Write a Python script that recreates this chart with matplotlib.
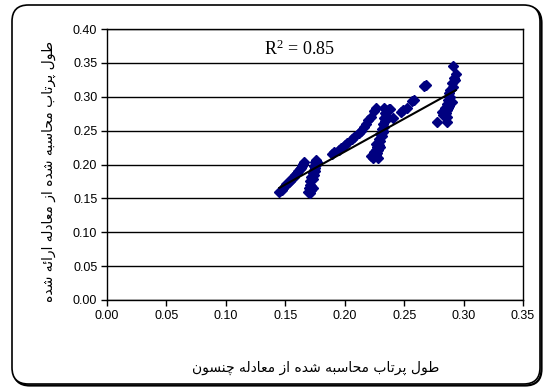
import numpy as np
import matplotlib
matplotlib.use('Agg')
from matplotlib import pyplot as plt
from matplotlib.patches import FancyBboxPatch

# clusters of points (x = Chanson, y = proposed equation)
xa = [0.145, 0.147, 0.148, 0.150, 0.151, 0.153, 0.154, 0.155, 0.157, 0.158, 0.159, 0.160, 0.161, 0.162, 0.163, 0.164, 0.165, 0.166]
ya = [0.160, 0.162, 0.165, 0.168, 0.171, 0.174, 0.176, 0.178, 0.181, 0.184, 0.186, 0.188, 0.191, 0.193, 0.195, 0.198, 0.201, 0.204]

xb = [0.169, 0.171, 0.172, 0.170, 0.171, 0.172, 0.171, 0.173, 0.172, 0.174, 0.173, 0.174, 0.175, 0.174, 0.176, 0.175, 0.177, 0.176, 0.173, 0.175]
yb = [0.160, 0.158, 0.162, 0.166, 0.170, 0.168, 0.175, 0.178, 0.182, 0.185, 0.188, 0.192, 0.195, 0.198, 0.200, 0.203, 0.204, 0.206, 0.165, 0.190]

xc = [0.189, 0.191, 0.195, 0.197, 0.200, 0.202, 0.206, 0.208, 0.212, 0.214, 0.216, 0.218, 0.220, 0.222, 0.2245, 0.2265]
yc = [0.215, 0.218, 0.222, 0.225, 0.229, 0.232, 0.237, 0.240, 0.246, 0.250, 0.255, 0.260, 0.265, 0.270, 0.279, 0.283]

xd = [0.222, 0.224, 0.226, 0.225, 0.227, 0.226, 0.228, 0.227, 0.229, 0.228, 0.230, 0.229, 0.231, 0.230, 0.232, 0.231, 0.233, 0.232, 0.234, 0.233, 0.235, 0.234, 0.236, 0.237, 0.228, 0.230, 0.232, 0.226, 0.233, 0.238]
yd = [0.212, 0.210, 0.214, 0.218, 0.217, 0.222, 0.221, 0.226, 0.229, 0.232, 0.235, 0.238, 0.242, 0.245, 0.248, 0.252, 0.256, 0.260, 0.264, 0.268, 0.272, 0.276, 0.280, 0.282, 0.209, 0.226, 0.250, 0.230, 0.284, 0.282]

xe = [0.241, 0.247, 0.249, 0.252, 0.257, 0.258, 0.267, 0.268]
ye = [0.268, 0.277, 0.280, 0.283, 0.293, 0.295, 0.316, 0.318]

xf = [0.2914, 0.2935, 0.292, 0.293, 0.290, 0.291, 0.289, 0.288, 0.289, 0.287, 0.286, 0.288, 0.284, 0.286, 0.282, 0.285, 0.283, 0.286, 0.2775, 0.286, 0.290, 0.287]
yf = [0.345, 0.333, 0.328, 0.325, 0.320, 0.315, 0.310, 0.305, 0.300, 0.295, 0.290, 0.287, 0.283, 0.280, 0.278, 0.276, 0.273, 0.270, 0.262, 0.262, 0.292, 0.283]

xticks = [0.00, 0.05, 0.10, 0.15, 0.20, 0.25, 0.30, 0.35]
yticks = [0.00, 0.05, 0.10, 0.15, 0.20, 0.25, 0.30, 0.35, 0.40]

xlabel = 'طول پرتاب محاسبه شده از معادله چنسون'
ylabel = 'طول پرتاب محاسبه شده از معادله ارائه شده'
r2_text = 'R$^{2}$ = 0.85'

# --- tiny arabic shaper, matplotlib has no shaping of its own ---
# letter: (isolated, final, initial, medial); None = does not join forward
forms = {
    'ا': (0xFE8D, 0xFE8E, None, None),
    'ب': (0xFE8F, 0xFE90, 0xFE91, 0xFE92),
    'ت': (0xFE95, 0xFE96, 0xFE97, 0xFE98),
    'ح': (0xFEA1, 0xFEA2, 0xFEA3, 0xFEA4),
    'د': (0xFEA9, 0xFEAA, None, None),
    'ر': (0xFEAD, 0xFEAE, None, None),
    'ز': (0xFEAF, 0xFEB0, None, None),
    'س': (0xFEB1, 0xFEB2, 0xFEB3, 0xFEB4),
    'ش': (0xFEB5, 0xFEB6, 0xFEB7, 0xFEB8),
    'ط': (0xFEC1, 0xFEC2, 0xFEC3, 0xFEC4),
    'ع': (0xFEC9, 0xFECA, 0xFECB, 0xFECC),
    'ل': (0xFEDD, 0xFEDE, 0xFEDF, 0xFEE0),
    'م': (0xFEE1, 0xFEE2, 0xFEE3, 0xFEE4),
    'ن': (0xFEE5, 0xFEE6, 0xFEE7, 0xFEE8),
    'ه': (0xFEE9, 0xFEEA, 0xFEEB, 0xFEEC),
    'و': (0xFEED, 0xFEEE, None, None),
    'ئ': (0xFE89, 0xFE8A, 0xFE8B, 0xFE8C),
    'پ': (0xFB56, 0xFB57, 0xFB58, 0xFB59),
    'چ': (0xFB7A, 0xFB7B, 0xFB7C, 0xFB7D),
}

def shape(s):
    out = []
    for i, ch in enumerate(s):
        if ch not in forms:
            out.append(ch)
            continue
        prev = s[i-1] if i > 0 else ''
        nxt = s[i+1] if i < len(s)-1 else ''
        join_prev = prev in forms and forms[prev][2] is not None
        join_next = nxt in forms and forms[ch][2] is not None
        f = forms[ch]
        if join_prev and join_next:
            c = f[3]
        elif join_prev:
            c = f[1]
        elif join_next:
            c = f[2]
        else:
            c = f[0]
        out.append(chr(c))
    return ''.join(out)[::-1]


x_all = np.array(xa + xb + xc + xd + xe + xf)
y_all = np.array(ya + yb + yc + yd + ye + yf)
k, b = np.polyfit(x_all, y_all, 1)
xl = np.array([x_all.min(), x_all.max()])

plt.rcParams['font.family'] = ['Liberation Sans', 'DejaVu Sans']
plt.rcParams['mathtext.fontset'] = 'custom'
plt.rcParams['mathtext.rm'] = 'Liberation Serif'
plt.rcParams['mathtext.it'] = 'Liberation Serif:italic'
plt.rcParams['mathtext.bf'] = 'Liberation Serif:bold'

fig = plt.figure(figsize=(5.46, 3.90), dpi=100)
fig.patch.set_facecolor('white')

# rounded chart frame with a little shadow at bottom right
shadow = FancyBboxPatch((13.5/546, 4.5/390), 528/546, 379/390,
                        boxstyle='round,pad=0,rounding_size=0.03',
                        transform=fig.transFigure, fill=False,
                        edgecolor='black', linewidth=1.6, mutation_aspect=546/390,
                        zorder=-2)
frame = FancyBboxPatch((12/546, 6/390), 528/546, 379/390,
                       boxstyle='round,pad=0,rounding_size=0.03',
                       transform=fig.transFigure, facecolor='white',
                       edgecolor='black', linewidth=1.2, mutation_aspect=546/390,
                       zorder=-1)
fig.patches.append(shadow)
fig.patches.append(frame)

ax = fig.add_axes([107/546, 1-300/390, 416/546, 271/390])
ax.set_xlim(0, 0.35)
ax.set_ylim(0, 0.40)
ax.set_xticks(xticks)
ax.set_yticks(yticks)
ax.set_xticklabels(['%.2f' % v for v in xticks], fontsize=9)
ax.set_yticklabels(['%.2f' % v for v in yticks], fontsize=9)
ax.tick_params(direction='out', length=4, width=1, pad=3)
ax.yaxis.grid(True, color='black', linewidth=1)
ax.set_axisbelow(True)
for sp in ax.spines.values():
    sp.set_linewidth(1)
    sp.set_color('black')

ax.plot(x_all, y_all, linestyle='none', marker='D', markersize=5,
        color='#000080', markeredgecolor='#000080')
ax.plot(xl, k*xl + b, color='black', linewidth=1.5)

ax.text(0.462, 0.926, r2_text, transform=ax.transAxes, ha='center', va='center',
        fontsize=13, family='Liberation Serif')

fig.text(316/546, 1-368/390, shape(xlabel), ha='center', va='center',
         fontsize=10, family='DejaVu Sans')
fig.text(49/546, 1-172/390, shape(ylabel), ha='center', va='center',
         rotation=90, fontsize=10, family='DejaVu Sans')

fig.savefig('out.png', dpi=100)
